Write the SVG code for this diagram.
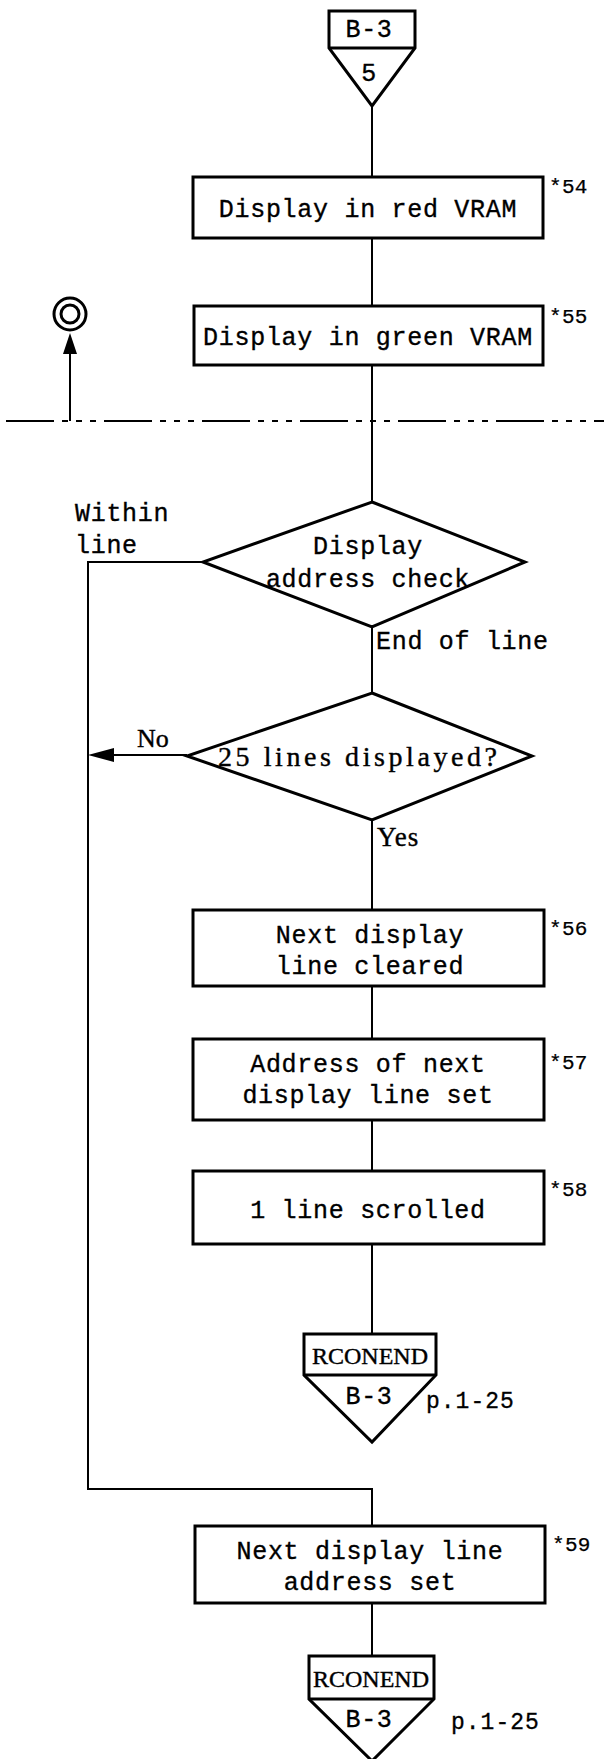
<svg xmlns="http://www.w3.org/2000/svg" width="604" height="1759" viewBox="0 0 604 1759">
  <style>
    .box { fill: #fff; stroke: #000; stroke-width: 3; }
    .dia { fill: #fff; stroke: #000; stroke-width: 3; stroke-linejoin: miter; }
    .line { fill: none; stroke: #000; stroke-width: 2; }
    .mono { font-family: "Liberation Mono", "Courier New", monospace; font-size: 25px; letter-spacing: 0.7px; fill: #000; stroke: #000; stroke-width: 0.35; }
    .note { font-family: "Liberation Mono", "Courier New", monospace; font-size: 21px; letter-spacing: 0.3px; fill: #000; stroke: #000; stroke-width: 0.25; }
    .page { font-family: "Liberation Mono", "Courier New", monospace; font-size: 23px; letter-spacing: 1px; fill: #000; stroke: #000; stroke-width: 0.3; }
    .serif { font-family: "Liberation Serif", "Times New Roman", serif; fill: #000; stroke: #000; stroke-width: 0.4; }
    .c { text-anchor: middle; }
  </style>
  <rect width="604" height="1759" fill="#fff"/>

  <!-- connectors -->
  <g id="connectors">
    <line class="line" x1="372" y1="106" x2="372" y2="177"/>
    <line class="line" x1="372" y1="238" x2="372" y2="306"/>
    <line class="line" x1="372" y1="365" x2="372" y2="502"/>
    <line class="line" x1="372" y1="627" x2="372" y2="693"/>
    <line class="line" x1="372" y1="820" x2="372" y2="910"/>
    <line class="line" x1="372" y1="986" x2="372" y2="1039"/>
    <line class="line" x1="372" y1="1120" x2="372" y2="1171"/>
    <line class="line" x1="372" y1="1244" x2="372" y2="1334"/>
    <polyline class="line" points="203,562 88,562 88,1489 372,1489 372,1526"/>
    <line class="line" x1="187" y1="755" x2="114" y2="755"/>
    <path d="M88,755 L114,748 L114,762 Z" fill="#000"/>
    <line class="line" x1="372" y1="1603" x2="372" y2="1656"/>
    <!-- link up to the marked point -->
    <line class="line" x1="70" y1="421" x2="70" y2="354"/>
    <path d="M70,333 L63,354 L77,354 Z" fill="#000"/>
  </g>

  <!-- page break line -->
  <line id="break-line" x1="6" y1="421" x2="604" y2="421" stroke="#000" stroke-width="2" stroke-dasharray="48 8 6 8 6 8 6 8"/>

  <!-- marked point symbol -->
  <g id="mark">
    <circle cx="70" cy="314" r="16" fill="#fff" stroke="#000" stroke-width="3"/>
    <circle cx="70" cy="314" r="9" fill="#fff" stroke="#000" stroke-width="3"/>
  </g>

  <!-- entry connector -->
  <g id="entry">
    <path class="box" d="M329,11 H415 V48 L372,106 L329,48 Z"/>
    <line x1="329" y1="48" x2="415" y2="48" stroke="#000" stroke-width="3"/>
    <text class="mono c" x="369" y="37">B-3</text>
    <text class="mono c" x="369" y="81">5</text>
  </g>

  <g id="red-vram">
    <rect class="box" x="193" y="177" width="350" height="61"/>
    <text class="mono c" x="368" y="217">Display in red VRAM</text>
    <text class="note" x="549" y="193">*54</text>
  </g>

  <g id="green-vram">
    <rect class="box" x="194" y="306" width="349" height="59"/>
    <text class="mono c" x="368" y="345">Display in green VRAM</text>
    <text class="note" x="549" y="323">*55</text>
  </g>

  <g id="address-check">
    <polygon class="dia" points="372,502 525,562 372,627 203,562"/>
    <text class="mono c" x="368" y="554">Display</text>
    <text class="mono c" x="368" y="587">address check</text>
    <text class="mono" x="75" y="521">Within</text>
    <text class="mono" x="75" y="553">line</text>
    <text class="mono" x="376" y="649">End of line</text>
  </g>

  <g id="lines-displayed">
    <polygon class="dia" points="372,693 532,756 372,820 187,756"/>
    <text class="serif" x="218" y="766" font-size="28" textLength="279" lengthAdjust="spacing">25 lines displayed?</text>
    <text class="serif" x="137" y="747" font-size="26">No</text>
    <text class="serif" x="377" y="846" font-size="27" letter-spacing="1">Yes</text>
  </g>

  <g id="clear-line">
    <rect class="box" x="193" y="910" width="351" height="76"/>
    <text class="mono c" x="370" y="943">Next display</text>
    <text class="mono c" x="370" y="974">line cleared</text>
    <text class="note" x="549" y="935">*56</text>
  </g>

  <g id="set-address">
    <rect class="box" x="193" y="1039" width="351" height="81"/>
    <text class="mono c" x="368" y="1072">Address of next</text>
    <text class="mono c" x="368" y="1103">display line set</text>
    <text class="note" x="549" y="1069">*57</text>
  </g>

  <g id="scroll">
    <rect class="box" x="193" y="1171" width="351" height="73"/>
    <text class="mono c" x="368" y="1218">1 line scrolled</text>
    <text class="note" x="549" y="1196">*58</text>
  </g>

  <g id="rconend-1">
    <path class="box" d="M304,1334 H436 V1375 L372,1442 L304,1375 Z"/>
    <line x1="304" y1="1375" x2="436" y2="1375" stroke="#000" stroke-width="3"/>
    <text class="serif c" x="370" y="1364" font-size="24">RCONEND</text>
    <text class="mono c" x="369" y="1404">B-3</text>
    <text class="page" x="426" y="1408">p.1-25</text>
  </g>

  <g id="next-address">
    <rect class="box" x="195" y="1526" width="350" height="77"/>
    <text class="mono c" x="370" y="1559">Next display line</text>
    <text class="mono c" x="370" y="1590">address set</text>
    <text class="note" x="552" y="1551">*59</text>
  </g>

  <g id="rconend-2">
    <path class="box" d="M309,1656 H434 V1699 L372,1761 L309,1699 Z"/>
    <line x1="309" y1="1699" x2="434" y2="1699" stroke="#000" stroke-width="3"/>
    <text class="serif c" x="371" y="1687" font-size="24">RCONEND</text>
    <text class="mono c" x="369" y="1727">B-3</text>
    <text class="page" x="451" y="1729">p.1-25</text>
  </g>
</svg>
